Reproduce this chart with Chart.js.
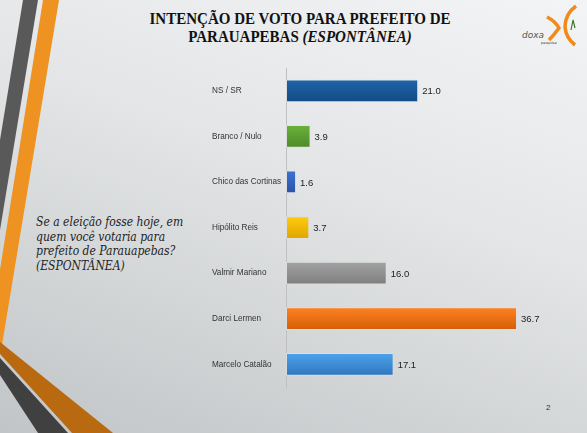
<!DOCTYPE html>
<html>
<head>
<meta charset="utf-8">
<script src="https://cdn.jsdelivr.net/npm/chart.js@4"></script>
<style>
  html, body { margin: 0; padding: 0; }
  body { width: 587px; height: 433px; overflow: hidden; position: relative;
         background: linear-gradient(200deg, #f3f4f5 0%, #e4e6e7 40%, #c2c5c7 100%); }
  #deco { position: absolute; left: 0; top: 0; }
  #title { position: absolute; left: 100px; width: 400px; top: 10px; text-align: center;
           font-family: "Liberation Serif", serif; font-weight: bold; font-size: 16.5px; line-height: 18px; color: #111;
           transform: scaleX(0.91); }
  #question { position: absolute; left: 36px; top: 215px; width: 175px;
              font-family: "DejaVu Serif Condensed", "DejaVu Serif", serif; font-style: italic; font-size: 12px; line-height: 14.5px; color: #222; }
  #page { position: absolute; left: 546px; top: 403px; font-family: "Liberation Sans", sans-serif; font-size: 8px; color: #333; }
  #box { position: absolute; left: 200px; top: 60px; width: 375px; height: 335px; }
</style>
</head>
<body>
<svg id="deco" width="587" height="433">
  <!-- left stripes -->
  <polygon points="23,0 38,0 0,230 0,140" fill="#595959"/>
  <polygon points="43,0 59,0 2,345 -12,345" fill="#ee9222"/>
  <!-- bottom stripes -->
  <polygon points="0,342 113,433 72,433 0,354" fill="#b9690f"/>
  <polygon points="0,358 68,433 38,433 0,375" fill="#404040"/>
  <!-- logo -->
  <path d="M547,17 Q555,21 559,28 Q554,35 549,40" fill="none" stroke="#f08a1c" stroke-width="3.5"/>
  <path d="M576,6 Q565,14 565,27 Q566,38 575,45" fill="none" stroke="#f08a1c" stroke-width="3.5"/>
  <path d="M571,30 L573,20 L575,28" fill="none" stroke="#3d7a2a" stroke-width="1.2"/>
  <text x="522" y="38" font-family="DejaVu Sans" font-style="italic" font-size="9" fill="#555">doxa</text>
  <text x="541" y="44" font-family="DejaVu Sans" font-size="3.5" fill="#444">pesquisa</text>
</svg>
<div id="title">INTENÇÃO DE VOTO PARA PREFEITO DE<br>PARAUAPEBAS <i>(ESPONTÂNEA)</i></div>
<div id="question">Se a eleição fosse hoje, em quem você votaria para prefeito de Parauapebas? (ESPONTÂNEA)</div>
<div id="page">2</div>
<div id="box"><canvas id="chart"></canvas></div>
<script>
// Dados da pesquisa
const candidates = ["NS / SR", "Branco / Nulo", "Chico das Cortinas", "Hipólito Reis", "Valmir Mariano", "Darci Lermen", "Marcelo Catalão"];
const votes = [21.0, 3.9, 1.6, 3.7, 16.0, 36.7, 17.1];
const topColors = ["#1f64aa", "#6cb23c", "#3c72d4", "#ffcd10", "#a3a3a3", "#ff8120", "#4ea3ea"];
const bottomColors = ["#134b84", "#4d8a28", "#2a53a6", "#e0a400", "#7e7e7e", "#d35e08", "#2f76c0"];

// gradiente vertical em cada barra
function barFill(ctx) {
  const el = ctx.element;
  const i = ctx.dataIndex;
  if (!el || el.y == null || !el.height) return topColors[i];
  const g = ctx.chart.ctx.createLinearGradient(0, el.y - el.height / 2, 0, el.y + el.height / 2);
  g.addColorStop(0, topColors[i]);
  g.addColorStop(1, bottomColors[i]);
  return g;
}

// rótulos de valor no fim das barras
const valueLabels = {
  id: "valueLabels",
  afterDatasetsDraw(chart) {
    const ctx = chart.ctx;
    const meta = chart.getDatasetMeta(0);
    ctx.save();
    ctx.font = "9.5px 'Liberation Sans', Arial, sans-serif";
    ctx.fillStyle = "#222";
    ctx.textBaseline = "middle";
    meta.data.forEach((bar, i) => {
      ctx.fillText(votes[i].toFixed(1), bar.x + 4, bar.y + 1);
    });
    ctx.restore();
  }
};

const chart = new Chart("chart", {
  type: "bar",
  data: {
    labels: candidates,
    datasets: [{
      data: votes,
      backgroundColor: barFill,
      borderColor: "rgba(225,225,225,0.8)",
      borderWidth: 1,
      borderSkipped: false,
      categoryPercentage: 1,
      barPercentage: 0.5
    }]
  },
  options: {
    indexAxis: "y",
    responsive: true,
    maintainAspectRatio: false,
    animation: false,
    layout: { padding: { left: 12, right: 12, top: 8, bottom: 7 } },
    plugins: { legend: { display: false }, tooltip: { enabled: false } },
    scales: {
      x: { display: false, min: 0, max: 44 },
      y: {
        grid: { display: false },
        border: { display: true, color: "#c0c0c0", width: 1 },
        ticks: {
          crossAlign: "far",
          color: "#333",
          font: { family: "'Liberation Sans', Arial, sans-serif", size: 8.2 }
        },
        afterFit(scale) { scale.width = 74; }
      }
    }
  },
  plugins: [valueLabels]
});
chart.update("none");
</script>
</body>
</html>
